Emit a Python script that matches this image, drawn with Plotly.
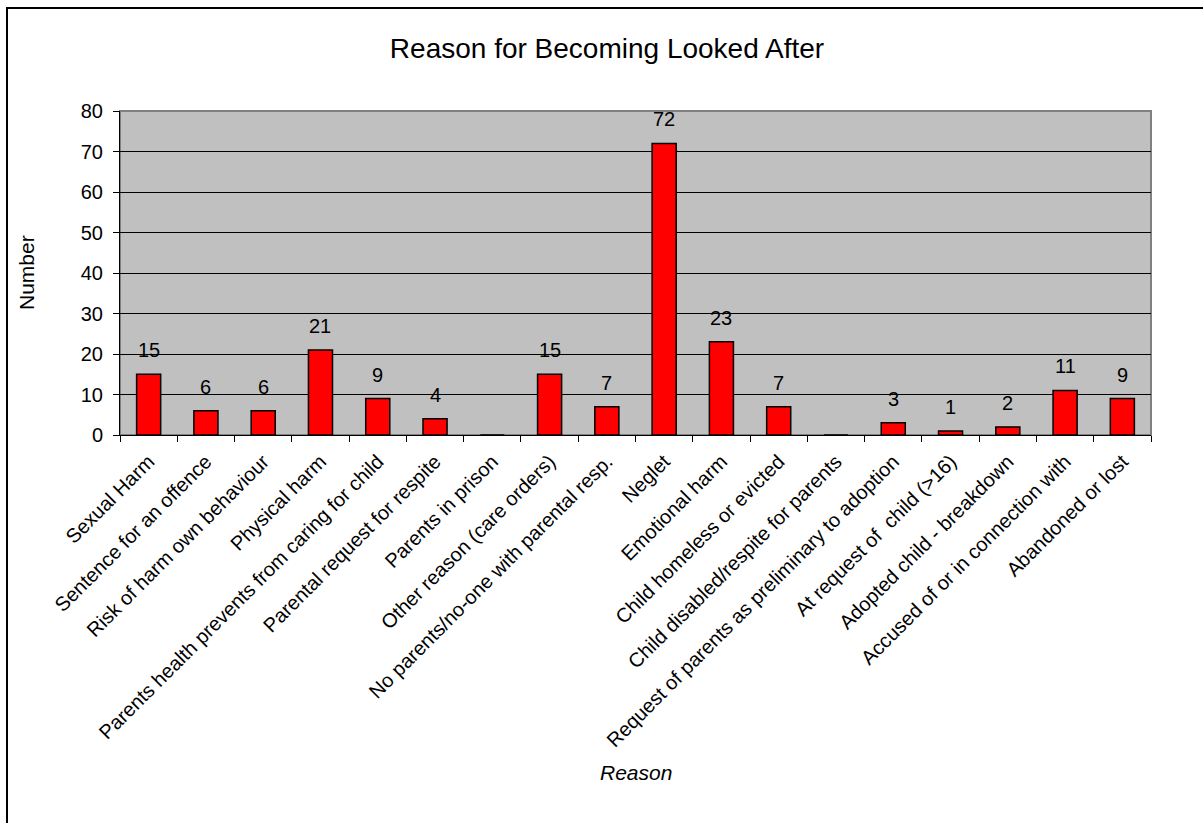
import plotly.graph_objects as go

categories = [
    "Sexual Harm", "Sentence for an offence", "Risk of harm own behaviour",
    "Physical harm", "Parents health prevents from caring for child",
    "Parental request for respite", "Parents in prison", "Other reason (care orders)",
    "No parents/no-one with parental resp.", "Neglet", "Emotional harm",
    "Child homeless or evicted", "Child disabled/respite for parents",
    "Request of parents as preliminary to adoption", "At request of  child (>16)",
    "Adopted child - breakdown", "Accused of or in connection with", "Abandoned or lost",
]
values = [15, 6, 6, 21, 9, 4, 0, 15, 7, 72, 23, 7, 0, 3, 1, 2, 11, 9]
y_ticks = [0, 10, 20, 30, 40, 50, 60, 70, 80]

W, H = 1203, 823
ML, MR, MT, MB = 120, 52, 111, 388
pw, ph = W - ML - MR, H - MT - MB

FONT = "Liberation Sans, Arial, sans-serif"

fig = go.Figure()
fig.add_trace(go.Bar(
    x=categories, y=values,
    marker=dict(color="#FF0000", line=dict(color="black", width=1.5)),
    hoverinfo="x+y",
))

for c, v in zip(categories, values):
    if v > 0:
        fig.add_annotation(x=c, y=v, text=str(v), showarrow=False,
                           yanchor="middle", yshift=24,
                           font=dict(family=FONT, size=20, color="black"))

# axis titles
fig.add_annotation(xref="paper", yref="paper", x=0.5, y=(H - 773 - MB) / ph,
                   text="<i>Reason</i>", showarrow=False, yanchor="middle",
                   font=dict(family=FONT, size=21, color="black"))
fig.add_annotation(xref="paper", yref="paper", x=(26 - ML) / pw, y=0.5,
                   text="Number", showarrow=False, textangle=-90,
                   xanchor="center", yanchor="middle",
                   font=dict(family=FONT, size=21, color="black"))

# plot-area frame (grey top/right)
fig.add_shape(type="rect", xref="paper", yref="paper", x0=0, y0=0, x1=1, y1=1,
              line=dict(color="#808080", width=2), fillcolor="rgba(0,0,0,0)", layer="below")
# outer chart border
fig.add_shape(type="rect", xref="paper", yref="paper",
              x0=(7 - ML) / pw, x1=(W + 10 - ML) / pw,
              y0=(H - 840 - MB) / ph, y1=(H - 8 - MB) / ph,
              line=dict(color="black", width=2), fillcolor="rgba(0,0,0,0)")

fig.update_layout(
    width=W, height=H,
    margin=dict(l=ML, r=MR, t=MT, b=MB, autoexpand=False),
    paper_bgcolor="white", plot_bgcolor="#C0C0C0",
    bargap=0.58, showlegend=False,
    font=dict(family=FONT, color="black"),
    title=dict(text="Reason for Becoming Looked After", xref="container", yref="container",
               x=607 / W, y=1 - 48 / H, xanchor="center", yanchor="middle",
               font=dict(family=FONT, size=28, color="black")),
    xaxis=dict(type="category", tickangle=-45, ticks="outside", tickson="boundaries",
               ticklen=6, tickcolor="black", showline=True, linecolor="black", linewidth=1,
               tickfont=dict(family=FONT, size=20, color="black"), showgrid=False,
               ticklabelstandoff=6, automargin=False),
    yaxis=dict(range=[0, 80], tickvals=y_ticks, ticks="outside", ticklen=6, tickcolor="black",
               showline=True, linecolor="black", linewidth=1, showgrid=True,
               gridcolor="black", gridwidth=1, zeroline=False,
               tickfont=dict(family=FONT, size=20, color="black"),
               ticklabelstandoff=6, automargin=False),
)

fig.write_html("out.html")
